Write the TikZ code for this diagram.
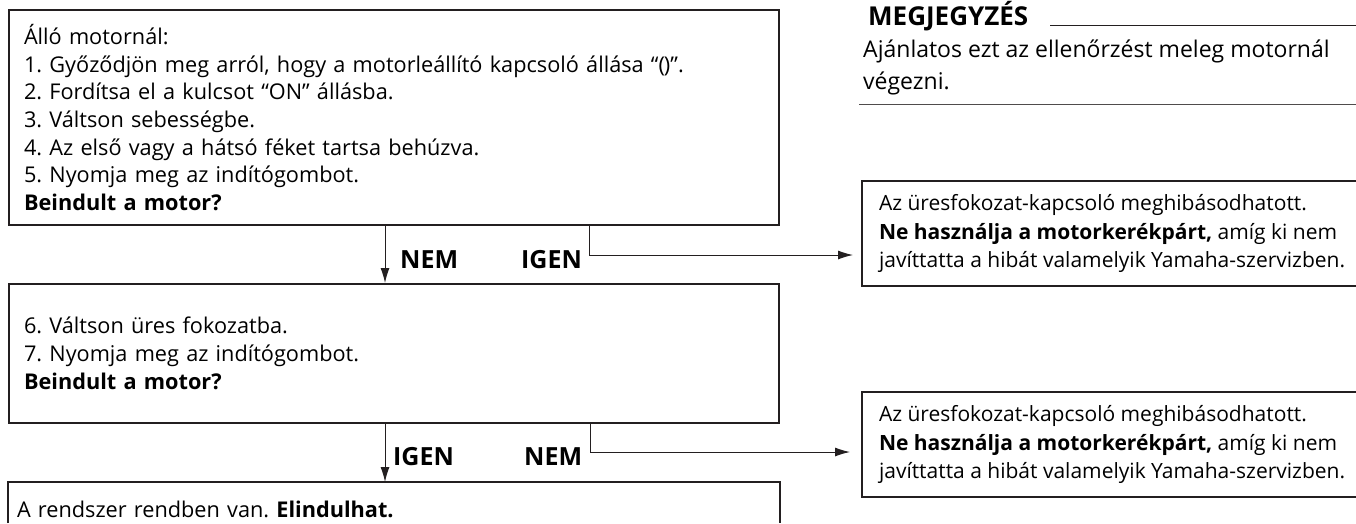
\documentclass[tikz,border=0pt]{standalone}
\usepackage{fontspec}
\setmainfont{Open Sans}
\usetikzlibrary{arrows.meta}
\definecolor{ink}{RGB}{35,31,32}
\newcommand{\steptext}{\fontsize{21.7}{27.7}\selectfont}
\newcommand{\warntext}{\fontsize{21}{28.5}\selectfont}
\frenchspacing
\begin{document}
\begin{tikzpicture}[x=1pt,y=-1pt,
    box/.style={draw=ink,line width=2pt,anchor=north west,align=left,inner xsep=15pt},
    warnbox/.style={box,inner xsep=17pt,minimum width=494pt,minimum height=105pt,font=\warntext},
    flow/.style={-{Latex[length=15pt,width=9pt]},draw=ink,line width=1pt},
    answer/.style={anchor=base west,inner sep=0pt,font=\fontsize{25}{28}\selectfont\bfseries}]
  \useasboundingbox (0,0) rectangle (1356,523);
  \node[box,text width=740pt,minimum height=215pt,font=\steptext] (q1) at (8,9)
    {Álló motornál:\\
     1. Győződjön meg arról, hogy a motorleállító kapcsoló állása “(\kern-1pt)”.\\
     2. Fordítsa el a kulcsot “ON” állásba.\\
     3. Váltson sebességbe.\\
     4. Az első vagy a hátsó féket tartsa behúzva.\\
     5. Nyomja meg az indítógombot.\\
     \textbf{Beindult a motor?}};
  \node[box,text width=740pt,minimum height=139pt,font=\steptext] (q2) at (8,283)
    {6. Váltson üres fokozatba.\\
     7. Nyomja meg az indítógombot.\\
     \textbf{Beindult a motor?}};
  \node[box,draw=none,text width=754pt,inner xsep=8pt,inner ysep=18pt,font=\steptext] (ok) at (8,482)
    {A rendszer rendben van. \textbf{Elindulhat.}};
  \draw[ink,line width=2pt] (ok.north west |- 0,523) -- (ok.north west) -- (ok.north east) -- (ok.north east |- 0,523);
  \node[warnbox] (w1) at (861,180)
    {Az üresfokozat-kapcsoló meghibásodhatott.\\
     \textbf{Ne használja a motorkerékpárt,} amíg ki nem\\
     javíttatta a hibát valamelyik Yamaha-szervizben.};
  \node[warnbox] (w2) at (861,391)
    {Az üresfokozat-kapcsoló meghibásodhatott.\\
     \textbf{Ne használja a motorkerékpárt,} amíg ki nem\\
     javíttatta a hibát valamelyik Yamaha-szervizben.};
  \node[answer] (no1) at (400,268) {NEM};
  \node[answer] (yes1) at (521,268) {IGEN};
  \node[answer] (yes2) at (393,465) {IGEN};
  \node[answer] (no2) at (524,465) {NEM};
  \draw[flow] (385,0 |- q1.south) -- (385,0 |- q2.north);
  \draw[flow,shorten >=8pt] (589,0 |- q1.south) |- (w1.west |- 0,255);
  \draw[flow] (385,0 |- q2.south) -- (385,0 |- ok.north);
  \draw[flow,shorten >=11pt] (590,0 |- q2.south) |- (w2.west |- 0,452);
  \node[anchor=base west,inner sep=0pt,font=\fontsize{26}{30}\selectfont\bfseries] (notehead) at (868,25) {MEGJEGYZÉS};
  \draw[ink,line width=1pt] ([xshift=22pt]notehead.base east) -- (1356,0 |- notehead.base);
  \node[anchor=base west,inner sep=0pt,align=left,font=\fontsize{23}{32}\selectfont] (notetext) at (863,89)
    {Ajánlatos ezt az ellenőrzést meleg motornál\\végezni.};
  \draw[ink!80,line width=1pt] (859,104) -- (1356,104);
\end{tikzpicture}
\end{document}
